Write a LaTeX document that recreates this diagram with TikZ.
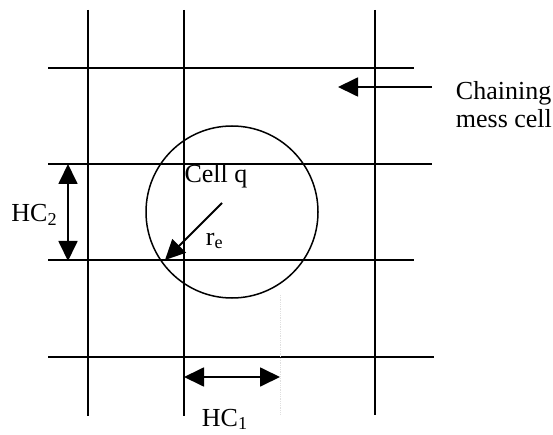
\documentclass[tikz,border=0pt]{standalone}
\usepackage{fontspec}
\setmainfont{Liberation Serif}
\usetikzlibrary{arrows.meta}

\begin{document}
\begin{tikzpicture}[x=1pt, y=-1pt, line width=1.8pt]
				% Stili di linee, frecce e testi
				\tikzset{griglia/.style={line width=1.8pt},
					punta/.style={-{Triangle[length=20pt, width=19pt]}},
					doppia/.style={{Triangle[length=20pt, width=19pt]}-{Triangle[length=20pt, width=19pt]}},
					testo/.style={inner sep=0pt, font=\fontsize{26}{30}\selectfont}}
				\useasboundingbox (0,0) rectangle (553,435);
				
				% Linee verticali della griglia (ascissa/fine)
				\foreach \x/\b in {88/416, 184/416, 375/415}
					\draw[griglia] (\x,10) -- (\x,\b);
				
				% Linee orizzontali della griglia (ordinata/fine)
				\foreach \y/\e in {68/414, 164/432, 260/414, 357/434}
					\draw[griglia] (48,\y) -- (\e,\y);
				
				% Cerchio della cella
				\node[circle, draw, minimum size=172pt, inner sep=0pt, line width=1.5pt] (cerchio) at (232,212) {};
				
				% Punti delle frecce
				\coordinate (centro) at (222,203);
				\coordinate (bordo) at (165,260);
				\coordinate (hcdue1) at (68,164);
				\coordinate (hcdue2) at (68,261);
				\coordinate (hcuno1) at (184,377);
				\coordinate (hcuno2) at (280,377);
				\coordinate (catena1) at (432,87);
				\coordinate (catena2) at (338,87);
				\coordinate (guida1) at (280,295);
				\coordinate (guida2) at (280,415);
				
				% Testi
				\node[testo, anchor=base] (cellq) at (216,183) {Cell q};
				\node[testo, anchor=base west] (re) at (205,245) {r\textsubscript{e}};
				\node[testo, anchor=base east] (hc2) at (58,222) {HC\textsubscript{2}};
				\node[testo, anchor=base west] (hc1) at (201,426) {HC\textsubscript{1}};
				\node[testo, anchor=base west] (chaining) at (455,100) {Chaining};
				\node[testo, anchor=base west] (mess) at (455,128) {mess cell};
				
				% Frecce
				\draw[punta] (centro) -- (bordo);
				\draw[doppia] (hcdue1) -- (hcdue2);
				\draw[doppia] (hcuno1) -- (hcuno2);
				\draw[punta] (catena1) -- (catena2);
				\draw[gray!25, densely dotted, line width=0.8pt] (guida1) -- (guida2);
			\end{tikzpicture}
\end{document}
